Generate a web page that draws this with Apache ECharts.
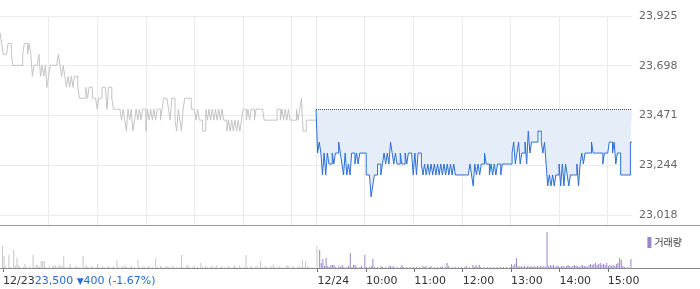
<!DOCTYPE html>
<html><head><meta charset="utf-8">
<script src="https://cdn.jsdelivr.net/npm/echarts@6/dist/echarts.min.js"></script>
<style>html,body{margin:0;padding:0;background:#fff}#c{width:700px;height:289px}</style>
</head><body><div id="c"></div>
<script>
// ---- data ----
const STEP = 2;                 // minutes between samples
const DAY_MINUTES = 390;        // 09:00 - 15:30
const dayLabels = ['12/23', '12/24'];
const timeTickMinutes = [450, 510, 570, 630, 690, 750];
const timeTickLabels = ['10:00', '11:00', '12:00', '13:00', '14:00', '15:00'];
const hourGridMinutes = [60, 120, 180, 240, 300, 360, 390, 450, 510, 570, 630, 690, 750];
const yTickValues = [23018, 23244.75, 23471.5, 23698.25, 23925];
const yTickLabels = ['23,018', '23,244', '23,471', '23,698', '23,925'];
const prevClose = 23500;
const summaryPrice = '23,500';
const summaryChange = '400';
const summaryPct = '(-1.67%)';
const volumeName = '거래량';

const day1Price = [
  23850,23800,23750,23750,23750,23800,23800,23750,23700,23700,
  23700,23700,23700,23700,23750,23800,23800,23750,23800,23750,
  23650,23700,23700,23700,23750,23650,23700,23650,23700,23600,
  23650,23700,23700,23700,23700,23700,23750,23700,23650,23700,
  23650,23600,23650,23600,23650,23600,23650,23650,23600,23550,
  23550,23550,23550,23600,23550,23600,23600,23550,23550,23550,
  23500,23550,23550,23600,23600,23600,23500,23600,23600,23550,
  23500,23500,23500,23500,23500,23450,23500,23450,23400,23500,
  23450,23500,23400,23450,23500,23450,23500,23450,23500,23500,
  23400,23500,23450,23500,23450,23500,23450,23500,23500,23450,
  23500,23550,23550,23550,23500,23450,23550,23550,23450,23400,
  23500,23450,23400,23500,23550,23550,23550,23550,23500,23500,
  23500,23450,23500,23450,23450,23400,23400,23500,23450,23500,
  23450,23500,23450,23500,23450,23500,23450,23500,23450,23450,
  23400,23450,23400,23450,23400,23450,23400,23450,23400,23450,
  23500,23500,23450,23500,23450,23500,23500,23450,23500,23500,
  23500,23500,23500,23450,23450,23450,23450,23450,23450,23450,
  23450,23500,23500,23450,23500,23450,23500,23450,23500,23450,
  23450,23450,23450,23500,23450,23500,23550,23400,23400,23450,
  23450,23450,23450,23450,23450,23450
];
const day2Price = [
  23500,23300,23350,23300,23200,23300,23200,23300,23250,23250,
  23300,23250,23300,23300,23350,23300,23250,23200,23300,23200,
  23250,23200,23300,23300,23250,23300,23250,23300,23300,23300,
  23300,23200,23200,23200,23100,23150,23200,23200,23250,23250,
  23200,23250,23300,23250,23300,23250,23350,23300,23250,23300,
  23250,23250,23300,23250,23250,23300,23250,23300,23300,23300,
  23200,23300,23200,23300,23300,23250,23200,23250,23200,23250,
  23200,23250,23200,23250,23200,23250,23200,23250,23200,23250,
  23200,23250,23200,23250,23200,23250,23200,23200,23200,23200,
  23200,23200,23200,23200,23200,23250,23200,23150,23250,23200,
  23250,23200,23250,23250,23300,23250,23250,23200,23250,23200,
  23250,23200,23250,23250,23200,23250,23250,23250,23250,23250,
  23250,23300,23350,23250,23300,23350,23250,23300,23300,23350,
  23250,23400,23300,23350,23350,23350,23350,23400,23400,23350,
  23300,23350,23250,23150,23200,23150,23200,23150,23200,23200,
  23250,23150,23250,23150,23250,23200,23150,23200,23200,23200,
  23200,23250,23150,23250,23300,23250,23300,23300,23300,23300,
  23350,23300,23300,23300,23300,23300,23300,23250,23300,23300,
  23300,23350,23350,23300,23350,23250,23300,23300,23200,23200,
  23200,23200,23200,23200,23350,23350
];
const day1Volume = [
  22,12,2,0,13,1,0,18,2,10,
  3,1,0,1,4,1,0,2,0,13,
  1,3,3,1,7,7,7,1,0,2,
  0,2,3,2,1,3,2,2,12,1,
  0,1,4,1,0,1,2,0,1,0,
  12,1,3,1,0,2,1,0,1,4,
  1,0,2,1,0,1,2,0,1,2,
  0,8,1,0,2,1,3,1,0,1,
  2,0,1,0,8,1,0,2,1,0,
  1,2,0,1,0,10,1,0,2,1,
  0,1,2,1,0,1,2,0,1,0,
  1,13,1,0,2,3,1,0,1,2,
  0,1,0,5,1,0,2,1,0,1,
  2,0,1,3,0,1,2,0,1,0,
  2,1,0,1,3,1,0,2,1,0,
  1,13,1,0,2,1,0,1,2,0,
  7,1,0,2,1,0,1,2,3,1,
  0,1,2,0,1,0,2,3,1,0,
  2,1,0,1,2,1,8,1,7,2,
  1,0,1,0,0,22
];
const day2Volume = [
  0,18,5,9,2,10,2,1,3,3,
  3,1,0,2,1,3,1,0,1,2,
  15,1,3,3,1,0,1,2,0,13,
  1,0,1,2,9,1,0,1,0,2,
  1,0,1,0,2,2,1,2,0,1,
  0,1,3,1,0,1,0,1,0,1,
  0,1,0,1,0,2,1,2,0,1,
  2,0,1,0,1,0,1,2,0,1,
  5,2,0,1,0,1,0,1,0,1,
  0,1,2,0,1,0,3,1,3,1,
  3,1,0,1,0,1,0,1,0,1,
  0,1,0,1,0,1,0,1,0,1,
  4,2,4,10,2,1,2,1,2,1,
  2,1,2,1,2,1,2,1,2,1,
  2,1,36,2,3,2,3,1,2,2,
  1,2,2,1,2,3,2,1,2,3,
  2,2,1,2,3,2,2,1,3,4,
  3,4,5,3,4,5,3,4,3,5,
  2,3,2,3,2,4,5,10,8,2,
  1,0,1,0,9,0
];

// ---- chart ----
const FONT = 'DejaVu Sans';
const X_MAX = DAY_MINUTES * 2;
const pts = (arr, offset) => arr.map((v, i) => [offset + i * STEP, v]);
const xTickValues = [0, DAY_MINUTES].concat(timeTickMinutes);
const xTickText = {};
xTickText[0] = dayLabels[0];
xTickText[DAY_MINUTES] = dayLabels[1];
timeTickMinutes.forEach((m, i) => { xTickText[m] = timeTickLabels[i]; });

const chart = echarts.init(document.getElementById('c'), null, {renderer: 'canvas'});
chart.setOption({
  animation: false,
  backgroundColor: '#fff',
  grid: [
    {left: 0, top: 16, width: 632, height: 209},
    {left: 0, top: 228, width: 632, height: 40},
    {left: 0, right: 0, top: 16, height: 209},
    {left: 0, right: 0, top: 228, height: 40}
  ],
  legend: {
    data: [volumeName], right: 13, top: 232, icon: 'rect', itemWidth: 4, itemHeight: 11,
    selectedMode: false,
    textStyle: {color: '#444', fontSize: 10, fontFamily: 'Noto Sans CJK KR', padding: [0, 0, 0, -2]}
  },
  xAxis: [
    {gridIndex: 0, type: 'value', min: 0, max: X_MAX,
      axisLine: {show: false}, axisTick: {show: false, customValues: hourGridMinutes},
      axisLabel: {show: false},
      splitLine: {show: true, lineStyle: {color: '#ebebeb', width: 1}}},
    {gridIndex: 1, type: 'value', min: 0, max: X_MAX,
      axisLine: {show: false},
      axisTick: {show: true, customValues: xTickValues, length: 4, lineStyle: {color: '#777'}},
      axisLabel: {
        show: true, customValues: xTickValues, align: 'left', margin: 8,
        color: '#333', fontSize: 11, fontFamily: FONT,
        formatter: v => v === 0
          ? '{d|' + xTickText[0] + '}{b|' + summaryPrice + ' }{t|▼}{b|' + summaryChange + ' ' + summaryPct + '}'
          : xTickText[v],
        rich: {
          d: {color: '#333', fontSize: 11, fontFamily: FONT},
          b: {color: '#2a6ad6', fontSize: 11, fontFamily: FONT},
          t: {color: '#2a6ad6', fontSize: 9, fontFamily: FONT}
        }
      },
      splitLine: {show: false}},
    {gridIndex: 2, type: 'value', min: 0, max: 1,
      axisLine: {show: true, onZero: false, lineStyle: {color: '#9a9a9a'}},
      axisTick: {show: false}, axisLabel: {show: false}, splitLine: {show: false}},
    {gridIndex: 3, type: 'value', min: 0, max: 1,
      axisLine: {show: true, onZero: false, lineStyle: {color: '#8a8a8a'}},
      axisTick: {show: false}, axisLabel: {show: false}, splitLine: {show: false}}
  ],
  yAxis: [
    {gridIndex: 0, type: 'value', position: 'right', min: 22972, max: 23925,
      axisLine: {show: false}, axisTick: {show: false, customValues: yTickValues},
      axisLabel: {
        show: true, customValues: yTickValues, align: 'left', margin: 7,
        color: '#666', fontSize: 11, fontFamily: FONT,
        formatter: v => {
          const i = yTickValues.findIndex(t => Math.abs(t - v) < 0.01);
          return i >= 0 ? yTickLabels[i] : '';
        }
      },
      splitLine: {show: true, lineStyle: {color: '#ebebeb', width: 1}}},
    {gridIndex: 1, type: 'value', min: 0, max: 40, show: false},
    {gridIndex: 2, type: 'value', min: 0, max: 1, show: false},
    {gridIndex: 3, type: 'value', min: 0, max: 1, show: false}
  ],
  series: [
    {type: 'line', name: 'prev', xAxisIndex: 0, yAxisIndex: 0, data: pts(day1Price, 0),
      step: 'end', symbol: 'none', silent: true,
      lineStyle: {color: '#c4c4c4', width: 1}},
    {type: 'line', name: 'today', xAxisIndex: 0, yAxisIndex: 0, data: pts(day2Price, DAY_MINUTES),
      step: 'end', symbol: 'none', silent: true,
      lineStyle: {color: '#2c6fd8', width: 1},
      areaStyle: {origin: prevClose, color: '#e5edf9', opacity: 1},
      markLine: {
        silent: true, symbol: 'none', label: {show: false},
        lineStyle: {color: '#555', type: 'dotted', width: 1},
        data: [[{coord: [DAY_MINUTES, prevClose]}, {coord: [X_MAX, prevClose]}]]
      }},
    {type: 'bar', name: 'prevVolume', xAxisIndex: 1, yAxisIndex: 1, data: pts(day1Volume, 0),
      barWidth: 1, silent: true, itemStyle: {color: '#c6c6c6'}},
    {type: 'bar', name: volumeName, xAxisIndex: 1, yAxisIndex: 1, data: pts(day2Volume, DAY_MINUTES),
      barWidth: 1, silent: true, itemStyle: {color: '#9a85cb'}}
  ]
});
</script>
</body></html>
